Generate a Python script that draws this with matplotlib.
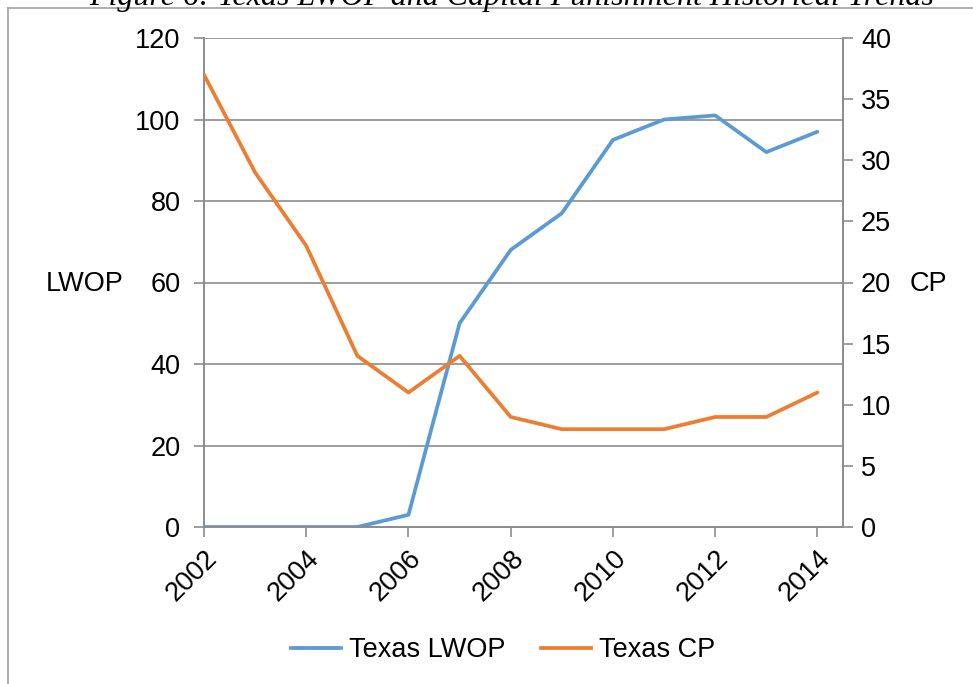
import matplotlib
matplotlib.use("Agg")
import matplotlib.pyplot as plt
from matplotlib.lines import Line2D

years = [2002, 2003, 2004, 2005, 2006, 2007, 2008, 2009, 2010, 2011, 2012, 2013, 2014]
lwop = [0, 0, 0, 0, 3, 50, 68, 77, 95, 100, 101, 92, 97]
cp = [37, 29, 23, 14, 11, 14, 9, 8, 8, 8, 9, 9, 11]
x_ticks = [2002, 2004, 2006, 2008, 2010, 2012, 2014]
left_ticks = [0, 20, 40, 60, 80, 100, 120]
right_ticks = [0, 5, 10, 15, 20, 25, 30, 35, 40]

plt.rcParams['font.family'] = ['Liberation Sans', 'DejaVu Sans']
W, H = 973, 684
FS = 19.5
fig = plt.figure(figsize=(W / 100, H / 100), dpi=100)
fig.patch.set_facecolor('white')

ax = fig.add_axes([204 / W, 1 - 527 / H, (843 - 204) / W, (527 - 38) / H])
ax2 = ax.twinx()

gray = '#8c8c8c'
blue = '#5B9BD5'
orange = '#ED7D31'

ax.plot(years, lwop, color=blue, lw=2.7, solid_capstyle='round', zorder=3)
ax2.plot(years, cp, color=orange, lw=2.7, solid_capstyle='round', zorder=3)

ax.set_xlim(2002, 2014.5)
ax.set_ylim(0, 120)
ax2.set_ylim(0, 40)
ax.set_yticks(left_ticks)
ax2.set_yticks(right_ticks)
ax.set_xticks(x_ticks)
ax.set_xticklabels([str(v) for v in x_ticks], rotation=45, ha='right',
                   rotation_mode='anchor')

ax.grid(axis='y', color=gray, lw=1.2)
ax.set_axisbelow(True)
for a in (ax, ax2):
    for s in a.spines.values():
        s.set_color(gray)
        s.set_linewidth(1.2)
    a.spines['top'].set_visible(False)
ax.tick_params(axis='both', colors=gray, labelcolor='black', labelsize=FS,
               length=7, width=1.2, direction='out')
ax.tick_params(axis='y', pad=10)
ax.tick_params(axis='x', pad=6)
ax2.tick_params(axis='y', colors=gray, labelcolor='black', labelsize=FS,
                length=7, width=1.2, direction='out', pad=6)

fig.text(85 / W, 1 - 284 / H, 'LWOP', fontsize=FS, ha='center', va='center')
fig.text(928 / W, 1 - 284 / H, 'CP', fontsize=FS, ha='center', va='center')

handles = [Line2D([], [], color=blue, lw=2.7), Line2D([], [], color=orange, lw=2.7)]
fig.legend(handles, ['Texas LWOP', 'Texas CP'], loc='center',
           bbox_to_anchor=(503 / W, 1 - 650 / H), ncol=2, frameon=False,
           fontsize=FS, handlelength=1.85, handletextpad=0.3, columnspacing=1.3)

# page border and clipped caption
fig.add_artist(Line2D([8 / W, 8 / W], [0, 1 - 8 / H], color='#a0a0a0', lw=1.2))
fig.add_artist(Line2D([8 / W, 1], [1 - 8 / H, 1 - 8 / H], color='#a0a0a0', lw=1.2))
fig.text(512 / W, 1 - 5 / H, 'Figure 6: Texas LWOP and Capital Punishment Historical Trends',
         fontsize=23, family=['Liberation Serif', 'DejaVu Serif'], style='italic',
         ha='center', va='baseline')

fig.savefig('out.png', dpi=100, facecolor='white')
